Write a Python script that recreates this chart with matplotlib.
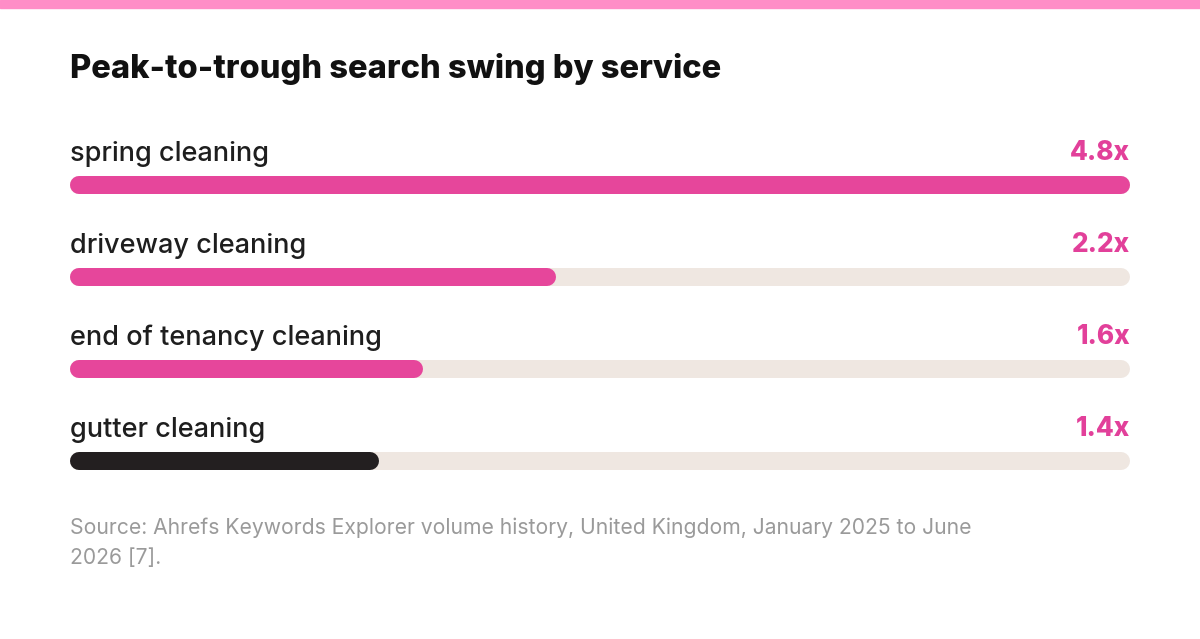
import matplotlib
matplotlib.use("Agg")
import matplotlib.pyplot as plt

services = ["spring cleaning", "driveway cleaning", "end of tenancy cleaning", "gutter cleaning"]
swing = [4.8, 2.2, 1.6, 1.4]
value_labels = ["4.8x", "2.2x", "1.6x", "1.4x"]
bar_colors = ["#E6469B", "#E6469B", "#E6469B", "#231F20"]

title = "Peak-to-trough search swing by service"
source = ("Source: Ahrefs Keywords Explorer volume history, United Kingdom, January 2025 to June\n"
          "2026 [7].")

W, H = 1200, 639
plt.rcParams['font.family'] = ['Inter', 'DejaVu Sans']

fig = plt.figure(figsize=(W / 100, H / 100), dpi=100)
fig.patch.set_facecolor("white")

# pink strip across the top
fig.patches.append(plt.Rectangle((0, 1 - 8 / H), 1, 8 / H, transform=fig.transFigure,
                                 color="#FF8DC7", zorder=0))

left, right = 70, 1130
ax = fig.add_axes([left / W, 0, (right - left) / W, 1])
ax.set_xlim(0, max(swing))
ax.set_ylim(H, 0)
ax.axis("off")

bar_h = 18  # px
lw = bar_h * 72 / 100
r = (bar_h / 2) / (right - left) * max(swing)  # cap radius in data units

row0, step = 185, 92
for i, (name, v, lab, c) in enumerate(zip(services, swing, value_labels, bar_colors)):
    yb = row0 + i * step
    # track
    ax.plot([r, max(swing) - r], [yb, yb], color="#EFE7E1", lw=lw, solid_capstyle="round", zorder=1)
    ax.plot([r, v - r], [yb, yb], color=c, lw=lw, solid_capstyle="round", zorder=2)
    ax.text(0, yb - 31, name, fontsize=19.5, color="#1E1E1E", va="center", ha="left", fontweight="medium")
    ax.text(max(swing), yb - 32, lab, fontsize=18.8, color="#E2409A", va="center", ha="right",
            fontweight="heavy")

fig.text(left / W, 1 - 69 / H, title, fontsize=23.5, fontweight="heavy", color="#111111",
         va="center", ha="left")
fig.text(left / W, 1 - 543 / H, source, fontsize=15.2, color="#9A9A9A", va="center", ha="left",
         linespacing=1.62)

fig.savefig("out.png", dpi=100, facecolor="white")
